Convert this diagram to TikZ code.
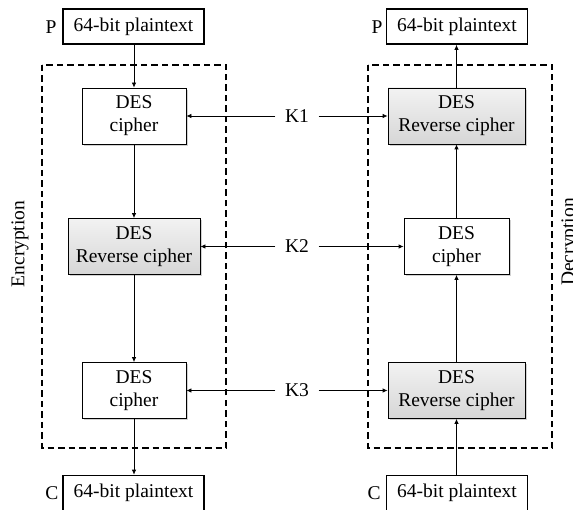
\documentclass[tikz,border=0pt]{standalone}
\usepackage{fontspec}
\setmainfont{Liberation Serif}
\usetikzlibrary{arrows.meta,shadows}
\begin{document}
\begin{tikzpicture}[x=1pt,y=-1pt,
  every node/.style={font=\fontsize{19.5}{23}\selectfont},
  ptbox/.style={draw, line width=1.6pt, minimum width=141pt, minimum height=35pt, inner sep=0pt, fill=white},
  desbox/.style={draw, line width=0.8pt, align=center, inner sep=0pt, fill=white,
    drop shadow={shadow xshift=2pt, shadow yshift=-2pt, fill=black!35}},
  encbox/.style={desbox, minimum width=104pt, minimum height=56pt},
  revbox/.style={desbox, top color=black!5, bottom color=black!16, minimum height=56pt},
  lbl/.style={inner sep=0pt},
  keylbl/.style={inner xsep=9.5pt, inner ysep=0pt},
  arr/.style={-{Latex[length=5pt,width=4.5pt]}, line width=0.8pt},
  dashbox/.style={draw, line width=1.9pt, dash pattern=on 6.5pt off 4pt}
]
\clip (0,0) rectangle (573,510);
\fill[white] (0,0) rectangle (573,510);
% dashed frames
\draw[dashbox] (42,65) rectangle (226,448);
\draw[dashbox] (368,65) rectangle (552,448);
% left column
\node[ptbox] (pl) at (133.5,26.5) {64-bit plaintext};
\node[encbox] (e1) at (134,116) {DES\\cipher};
\node[revbox, minimum width=132pt] (e2) at (134,246.5) {DES\\Reverse cipher};
\node[encbox] (e3) at (134,390.5) {DES\\cipher};
\node[ptbox] (cl) at (133.5,493) {64-bit plaintext};
\node[lbl] (pll) at (51,27) {P};
\node[lbl] (cll) at (52,493) {C};
% right column
\node[ptbox] (pr) at (457,26.5) {64-bit plaintext};
\node[revbox, minimum width=137pt] (d1) at (456.5,116) {DES\\Reverse cipher};
\node[encbox, minimum width=105pt] (d2) at (456.5,246.5) {DES\\cipher};
\node[revbox, minimum width=137pt] (d3) at (456.5,390.5) {DES\\Reverse cipher};
\node[ptbox] (cr) at (457,493) {64-bit plaintext};
\node[lbl] (prl) at (377,27) {P};
\node[lbl] (crl) at (374,493) {C};
% keys
\node[keylbl] (k1) at (297,116) {K1};
\node[keylbl] (k2) at (297,246.5) {K2};
\node[keylbl] (k3) at (297,390.5) {K3};
% side labels
\node[lbl, rotate=90] (enc) at (20,244) {Encryption};
\node[lbl, rotate=90] (dec) at (570,242) {Decryption};
% left arrows
\draw[arr] (pl.south -| e1.north) -- (e1.north);
\draw[arr] (e1) -- (e2);
\draw[arr] (e2) -- (e3);
\draw[arr] (e3.south) -- (e3.south |- cl.north);
% right arrows
\draw[arr] (cr.north -| d3.south) -- (d3.south);
\draw[arr] (d3) -- (d2);
\draw[arr] (d2) -- (d1);
\draw[arr] (d1.north) -- (d1.north |- pr.south);
% key arrows
\draw[arr] (k1.west) -- (e1.east);
\draw[arr] (k1.east) -- (d1.west);
\draw[arr] (k2.west) -- (e2.east);
\draw[arr] (k2.east) -- (d2.west);
\draw[arr] (k3.west) -- (e3.east);
\draw[arr] (k3.east) -- (d3.west);
\end{tikzpicture}
\end{document}
